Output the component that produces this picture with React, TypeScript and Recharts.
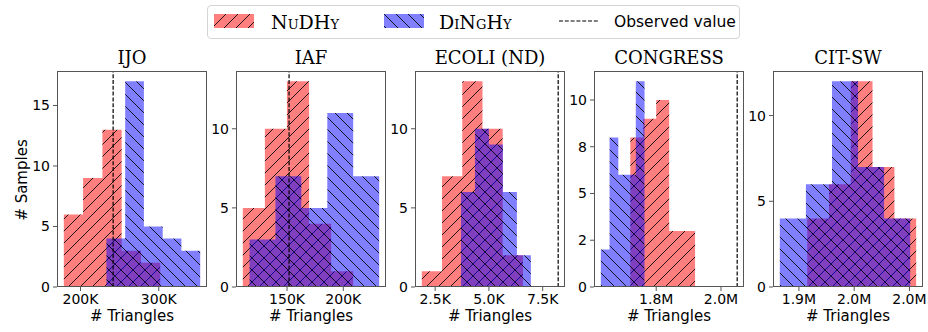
import React from 'react';
import { ComposedChart, Area, XAxis, YAxis, ReferenceLine } from 'recharts';

// histogram bin edges + counts (K or M units as on the ticks)
const titles = ['IJO', 'IAF', 'ECOLI (ND)', 'CONGRESS', 'CIT-SW'];

const ijoRedEdges = [178.7, 203.3, 228.0, 252.6, 277.2, 301.9];
const ijoRedCounts = [6, 9, 13, 3, 2];
const ijoBlueEdges = [233.1, 257.1, 281.0, 305.0, 328.9, 352.9];
const ijoBlueCounts = [4, 17, 5, 4, 3];
const ijoObserved = 241.7;
const ijoXTicks = [200, 300];
const ijoXLabels = ['200K', '300K'];
const ijoYTicks = [0, 5, 10, 15];

const iafRedEdges = [110.7, 130.3, 149.9, 169.6, 189.2, 208.8];
const iafRedCounts = [5, 10, 13, 4, 1];
const iafBlueEdges = [116.7, 139.7, 162.7, 185.8, 208.8, 231.9];
const iafBlueCounts = [3, 7, 5, 11, 7];
const iafObserved = 151.8;
const iafXTicks = [150, 200];
const iafXLabels = ['150K', '200K'];
const iafYTicks = [0, 5, 10];

const ecoliRedEdges = [1.88, 2.82, 3.76, 4.7, 5.64, 6.58];
const ecoliRedCounts = [1, 7, 13, 10, 2];
const ecoliBlueEdges = [3.7, 4.35, 5.0, 5.65, 6.3, 6.95];
const ecoliBlueCounts = [6, 10, 9, 6, 2];
const ecoliObserved = 8.22;
const ecoliXTicks = [2.5, 5.0, 7.5];
const ecoliXLabels = ['2.5K', '5.0K', '7.5K'];
const ecoliYTicks = [0, 5, 10];

const congressRedEdges = [1.72, 1.76, 1.8, 1.84, 1.88, 1.92];
const congressRedCounts = [8, 9, 10, 3, 3];
const congressBlueEdges = [1.629, 1.656, 1.683, 1.71, 1.737, 1.764];
const congressBlueCounts = [2, 8, 6, 6, 11];
const congressObserved = 2.05;
const congressXTicks = [1.8, 2.0];
const congressXLabels = ['1.8M', '2.0M'];
const congressYTicks = [0, 2.5, 5, 7.5, 10];
const congressYLabels = ['0', '2', '5', '8', '10'];

const citRedEdges = [1.9575, 1.9772, 1.9969, 2.0166, 2.0364, 2.0561];
const citRedCounts = [4, 6, 12, 7, 4];
const citBlueEdges = [1.9327, 1.9563, 1.9799, 2.0035, 2.0271, 2.0507];
const citBlueCounts = [4, 6, 12, 7, 4];
const citXTicks = [1.95, 2.0, 2.05];
const citXLabels = ['1.9M', '2.0M', '2.0M'];
const citYTicks = [0, 5, 10];

const RED = '#ff0000';
const BLUE = '#0000ff';
const SPINE = '#555';
const SANS = '"DejaVu Sans", sans-serif';
const SERIF = '"DejaVu Serif", serif';

const boxLefts = [57, 236, 415, 594, 773];
const PLOT_W = 150;
const PLOT_TOP = 71;
const PLOT_H = 216;
const Y_AXIS_W = 50;

const toSteps = (edges: number[], counts: number[]) =>
  edges.map((x, i) => ({ x, y: i < counts.length ? counts[i] : 0 }));

const panels = [
  { red: toSteps(ijoRedEdges, ijoRedCounts), blue: toSteps(ijoBlueEdges, ijoBlueCounts), obs: ijoObserved, xTicks: ijoXTicks, xLabels: ijoXLabels, yTicks: ijoYTicks, yLabels: null as string[] | null, edges: [...ijoRedEdges, ...ijoBlueEdges], counts: [...ijoRedCounts, ...ijoBlueCounts] },
  { red: toSteps(iafRedEdges, iafRedCounts), blue: toSteps(iafBlueEdges, iafBlueCounts), obs: iafObserved, xTicks: iafXTicks, xLabels: iafXLabels, yTicks: iafYTicks, yLabels: null, edges: [...iafRedEdges, ...iafBlueEdges], counts: [...iafRedCounts, ...iafBlueCounts] },
  { red: toSteps(ecoliRedEdges, ecoliRedCounts), blue: toSteps(ecoliBlueEdges, ecoliBlueCounts), obs: ecoliObserved, xTicks: ecoliXTicks, xLabels: ecoliXLabels, yTicks: ecoliYTicks, yLabels: null, edges: [...ecoliRedEdges, ...ecoliBlueEdges], counts: [...ecoliRedCounts, ...ecoliBlueCounts] },
  { red: toSteps(congressRedEdges, congressRedCounts), blue: toSteps(congressBlueEdges, congressBlueCounts), obs: congressObserved, xTicks: congressXTicks, xLabels: congressXLabels, yTicks: congressYTicks, yLabels: congressYLabels, edges: [...congressRedEdges, ...congressBlueEdges], counts: [...congressRedCounts, ...congressBlueCounts] },
  { red: toSteps(citRedEdges, citRedCounts), blue: toSteps(citBlueEdges, citBlueCounts), obs: null as number | null, xTicks: citXTicks, xLabels: citXLabels, yTicks: citYTicks, yLabels: null, edges: [...citRedEdges, ...citBlueEdges], counts: [...citRedCounts, ...citBlueCounts] },
];

function Hatch({ id, color, dir }: { id: string; color: string; dir: '/' | '\\' }) {
  const d = dir === '/'
    ? 'M-3,3 L3,-3 M0,12 L12,0 M9,15 L15,9'
    : 'M-3,9 L3,15 M0,0 L12,12 M9,-3 L15,3';
  return (
    <pattern id={id} patternUnits="userSpaceOnUse" width={12} height={12}>
      <rect width={12} height={12} fill={color} fillOpacity={0.5} />
      <path d={d} stroke="#000" strokeWidth={1} strokeOpacity={0.85} />
    </pattern>
  );
}

function Panel({ idx }: { idx: number }) {
  const p = panels[idx];
  const xs = p.obs != null ? [...p.edges, p.obs] : p.edges;
  const lo = Math.min(...xs);
  const hi = Math.max(...xs);
  const pad = (hi - lo) * 0.05;
  const yMax = Math.max(...p.counts) * 1.05;
  const left = boxLefts[idx];
  const fmtX = (v: number) => p.xLabels[p.xTicks.indexOf(v)] ?? String(v);
  const fmtY = (v: number) => (p.yLabels ? p.yLabels[p.yTicks.indexOf(v)] : String(v));

  return (
    <>
      <div style={{ position: 'absolute', left: left - Y_AXIS_W, top: 0 }}>
        <ComposedChart width={Y_AXIS_W + PLOT_W + 5} height={332} margin={{ top: PLOT_TOP, right: 5, left: 0, bottom: 5 }}>
          <defs>
            <Hatch id={`red-${idx}`} color={RED} dir="/" />
            <Hatch id={`blue-${idx}`} color={BLUE} dir="\\" />
          </defs>
          <XAxis
            type="number"
            dataKey="x"
            domain={[lo - pad, hi + pad]}
            allowDataOverflow
            ticks={p.xTicks}
            interval={0}
            tickFormatter={fmtX}
            height={40}
            axisLine={false}
            tickSize={4}
            tickMargin={3}
            tickLine={{ stroke: SPINE }}
            tick={{ fill: '#000', fontSize: 14, fontFamily: SANS }}
          />
          <YAxis
            type="number"
            domain={[0, yMax]}
            allowDataOverflow
            ticks={p.yTicks}
            interval={0}
            tickFormatter={fmtY}
            width={Y_AXIS_W}
            axisLine={false}
            tickSize={4}
            tickMargin={3}
            tickLine={{ stroke: SPINE }}
            tick={{ fill: '#000', fontSize: 14, fontFamily: SANS }}
          />
          <Area data={p.red} dataKey="y" type="stepAfter" stroke="none" fill={`url(#red-${idx})`} fillOpacity={1} dot={false} activeDot={false} isAnimationActive={false} />
          <Area data={p.blue} dataKey="y" type="stepAfter" stroke="none" fill={`url(#blue-${idx})`} fillOpacity={1} dot={false} activeDot={false} isAnimationActive={false} />
          {p.obs != null && (
            <ReferenceLine x={p.obs} stroke="#000" strokeWidth={1.2} strokeDasharray="4 1.8" />
          )}
        </ComposedChart>
      </div>
      <div style={{ position: 'absolute', left, top: PLOT_TOP, width: PLOT_W, height: PLOT_H, border: `1px solid ${SPINE}`, boxSizing: 'border-box', pointerEvents: 'none' }} />
      <div style={{ position: 'absolute', left, top: 47, width: PLOT_W, lineHeight: '22px', textAlign: 'center', fontFamily: SERIF, fontSize: 18 }}>
        {titles[idx]}
      </div>
      <div style={{ position: 'absolute', left: left - 20, top: 307, width: PLOT_W + 40, lineHeight: '18px', textAlign: 'center', fontFamily: SANS, fontSize: 15 }}>
        # Triangles
      </div>
    </>
  );
}

function LegendPatch({ id, color, dir }: { id: string; color: string; dir: '/' | '\\' }) {
  return (
    <svg width={40} height={14} style={{ display: 'block' }}>
      <defs>
        <Hatch id={id} color={color} dir={dir} />
      </defs>
      <rect width={40} height={14} fill={`url(#${id})`} />
    </svg>
  );
}

export default function App() {
  return (
    <div style={{ position: 'absolute', left: 0, top: 0, width: 928, height: 332, background: '#fff', overflow: 'hidden' }}>
      {panels.map((_, i) => (
        <Panel key={i} idx={i} />
      ))}
      <div style={{ position: 'absolute', left: 22, top: 180, transform: 'translate(-50%, -50%) rotate(-90deg)', whiteSpace: 'nowrap', fontFamily: SANS, fontSize: 15 }}>
        # Samples
      </div>
      <div style={{ position: 'absolute', left: 207, top: 5, width: 533, height: 34, border: '1px solid #d5d5d5', borderRadius: 4, boxSizing: 'border-box' }}>
        <div style={{ position: 'absolute', left: 6, top: 8 }}>
          <LegendPatch id="leg-red" color={RED} dir="/" />
        </div>
        <div style={{ position: 'absolute', left: 63, top: 4, lineHeight: '24px', fontFamily: SERIF, fontSize: 19, fontVariant: 'small-caps' }}>
          NuDHy
        </div>
        <div style={{ position: 'absolute', left: 176, top: 8 }}>
          <LegendPatch id="leg-blue" color={BLUE} dir="\\" />
        </div>
        <div style={{ position: 'absolute', left: 231, top: 4, lineHeight: '24px', fontFamily: SERIF, fontSize: 19, fontVariant: 'small-caps' }}>
          DiNgHy
        </div>
        <svg width={40} height={14} style={{ position: 'absolute', left: 351, top: 8 }}>
          <line x1={0} x2={40} y1={7} y2={7} stroke="#000" strokeWidth={1.2} strokeDasharray="4 1.8" />
        </svg>
        <div style={{ position: 'absolute', left: 406, top: 4, lineHeight: '24px', fontFamily: SANS, fontSize: 15.5 }}>
          Observed value
        </div>
      </div>
    </div>
  );
}
